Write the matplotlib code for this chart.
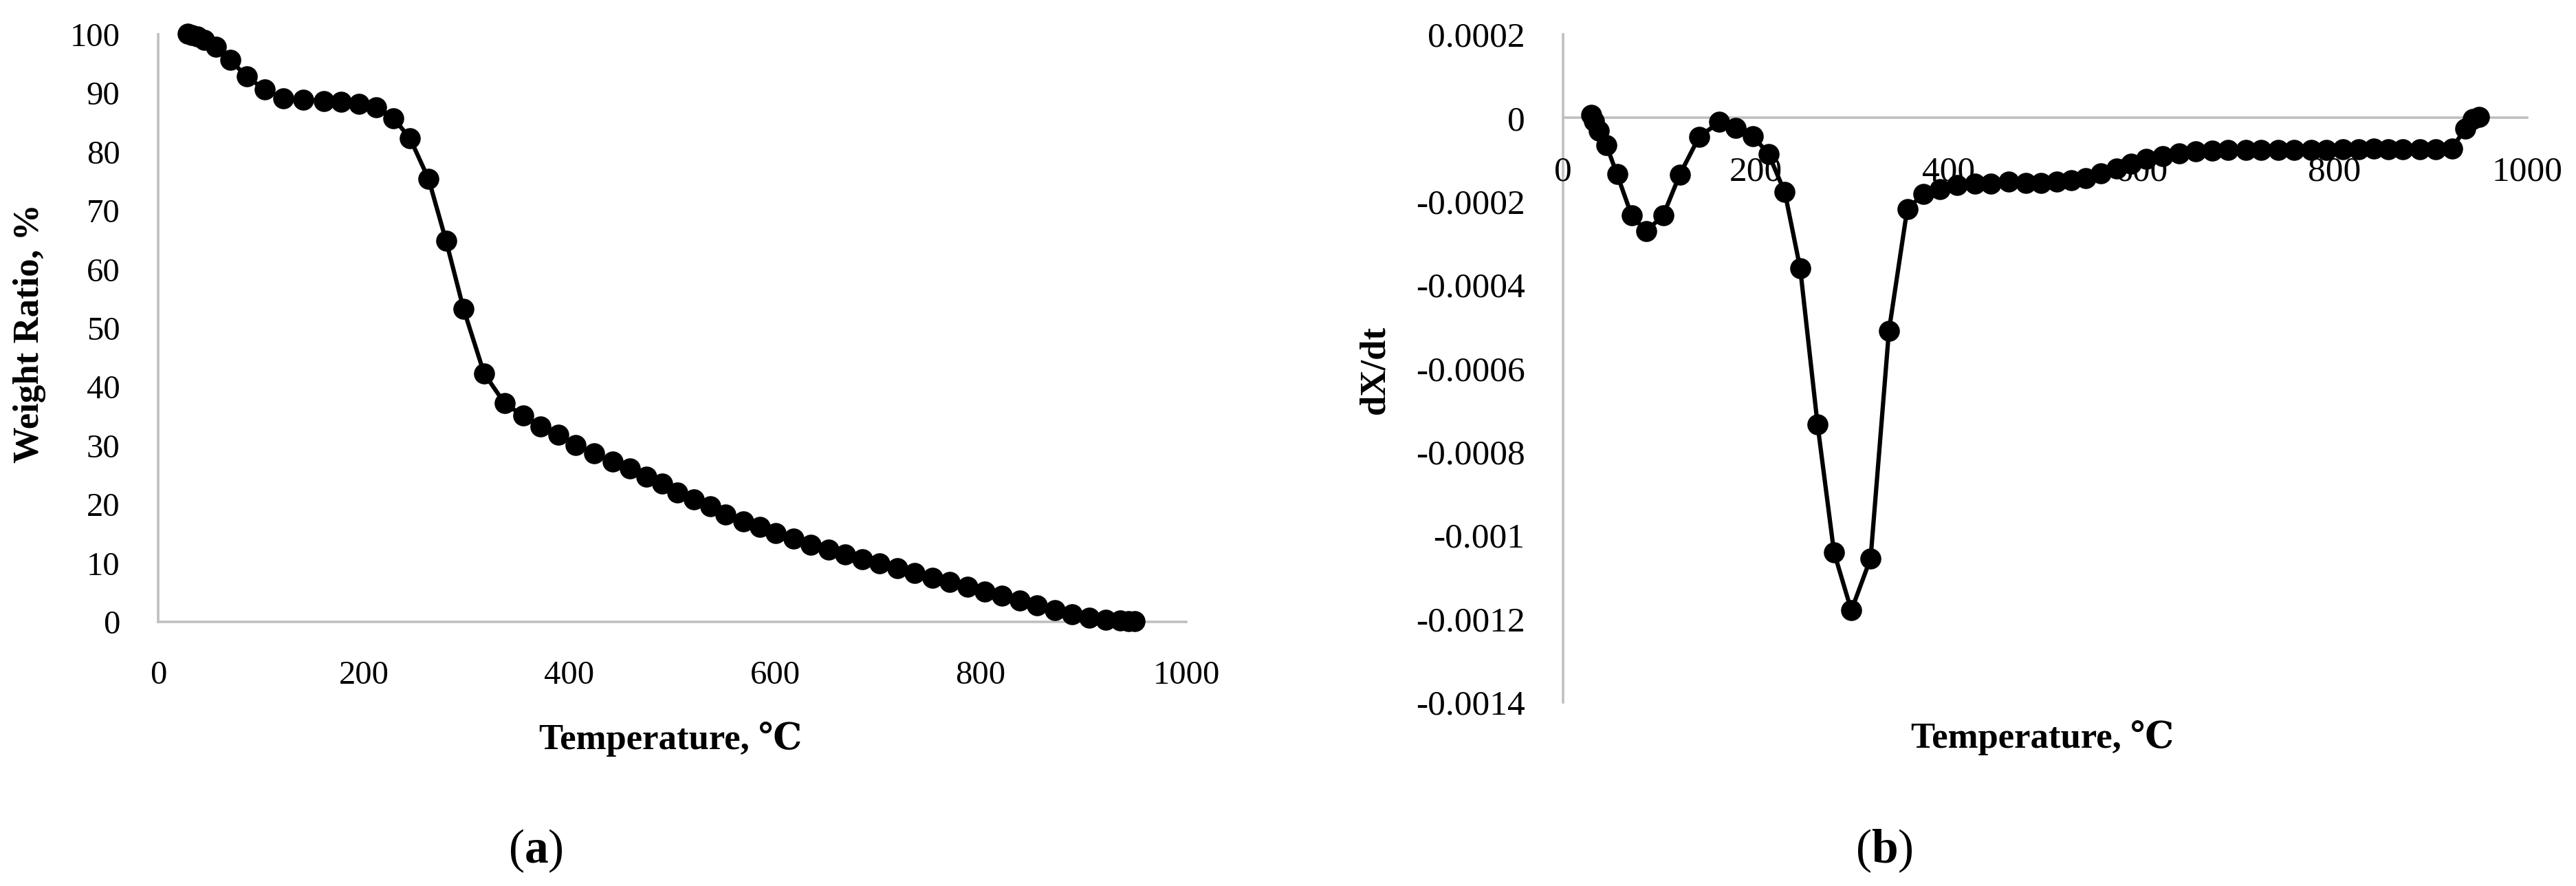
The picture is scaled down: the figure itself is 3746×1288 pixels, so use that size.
import matplotlib
matplotlib.use('Agg')
import matplotlib.pyplot as plt

# ---------------- data ----------------
# (a) weight ratio vs temperature
temp_a = [29, 33, 38, 45, 56, 70, 86, 104, 122, 141, 161, 178, 195, 212, 229, 245, 263,
          280, 297, 317, 337, 355, 372, 389, 406, 424, 442, 459, 475, 490, 505, 521, 537,
          552, 569, 585, 601, 618, 635, 652, 668, 685, 702, 719, 736, 753, 770, 787, 804,
          821, 838, 855, 872, 889, 906, 922, 936, 944, 950]
weight_a = [100.1, 99.9, 99.6, 99.1, 97.9, 95.7, 92.8, 90.6, 89.1, 88.9, 88.7, 88.5, 88.2,
            87.6, 85.7, 82.3, 75.4, 64.9, 53.3, 42.3, 37.2, 35.1, 33.3, 31.8, 30.1, 28.7,
            27.3, 26.1, 24.7, 23.5, 22.0, 20.8, 19.7, 18.3, 17.1, 16.2, 15.1, 14.2, 13.1,
            12.3, 11.5, 10.7, 9.9, 9.1, 8.3, 7.5, 6.8, 6.0, 5.2, 4.4, 3.6, 2.8, 2.0, 1.3,
            0.7, 0.4, 0.2, 0.1, 0.1]

# (b) dX/dt vs temperature
temp_b = [29, 32, 37, 45, 56, 71, 86, 104, 121, 141, 162, 179, 197, 213, 230, 246, 264,
          281, 299, 319, 338, 357, 374, 391, 409, 427, 444, 462, 480, 496, 512, 527, 542,
          558, 574, 589, 605, 622, 639, 656, 673, 690, 708, 724, 742, 758, 776, 792, 809,
          825, 841, 856, 871, 889, 905, 922, 936, 944, 950]
dxdt_b = [0.000008, -0.000008, -0.000031, -0.000066, -0.000135, -0.000233, -0.000272,
          -0.000233, -0.000136, -0.000046, -0.000010, -0.000024, -0.000044, -0.000086,
          -0.000178, -0.000361, -0.000735, -0.001040, -0.001180, -0.001055, -0.000510,
          -0.000218, -0.000182, -0.000171, -0.000161, -0.000157, -0.000157, -0.000153,
          -0.000156, -0.000156, -0.000153, -0.000150, -0.000144, -0.000133, -0.000121,
          -0.000110, -0.000099, -0.000091, -0.000085, -0.000080, -0.000078, -0.000077,
          -0.000077, -0.000077, -0.000077, -0.000077, -0.000077, -0.000077, -0.000076,
          -0.000076, -0.000074, -0.000076, -0.000076, -0.000076, -0.000076, -0.000073,
          -0.000025, -0.000003, 0.000002]

xticks = [0, 200, 400, 600, 800, 1000]
yticks_a = [0, 10, 20, 30, 40, 50, 60, 70, 80, 90, 100]
yticks_b = [0.0002, 0, -0.0002, -0.0004, -0.0006, -0.0008, -0.001, -0.0012, -0.0014]
yticklabels_b = ['0.0002', '0', '-0.0002', '-0.0004', '-0.0006', '-0.0008', '-0.001',
                 '-0.0012', '-0.0014']

# ---------------- style ----------------
W, H = 3746, 1288
serif = ['Liberation Serif', 'DejaVu Serif', 'Noto Sans CJK SC']
plt.rcParams['font.family'] = serif
plt.rcParams['axes.unicode_minus'] = False
plt.rcParams['mathtext.fontset'] = 'custom'
plt.rcParams['mathtext.rm'] = 'Liberation Serif'
plt.rcParams['mathtext.bf'] = 'Liberation Serif:bold'

fig = plt.figure(figsize=(W / 100, H / 100), dpi=100)
axis_col = '#BFBFBF'

def style(ax, size):
    for s in ['top', 'right']:
        ax.spines[s].set_visible(False)
    for s in ['left', 'bottom']:
        ax.spines[s].set_color(axis_col)
        ax.spines[s].set_linewidth(2.6)
        ax.spines[s].set_zorder(1)
    ax.tick_params(length=0, labelsize=size, pad=40)

# (a)
axL = fig.add_axes([230 / W, 384 / H, 1495 / W, 854 / H])
axL.plot(temp_a, weight_a, color='black', lw=4.5, marker='o', ms=21,
         clip_on=False, zorder=3)
axL.set_xlim(0, 1000)
axL.set_ylim(0, 100)
axL.set_xticks(xticks)
axL.set_yticks(yticks_a)
style(axL, 35)

# (b)
axR = fig.add_axes([2273 / W, 267 / H, 1402 / W, 971 / H])
axR.plot(temp_b, dxdt_b, color='black', lw=4.5, marker='o', ms=21,
         clip_on=False, zorder=3)
axR.set_xlim(0, 1000)
axR.set_ylim(-0.0014, 0.0002)
axR.set_xticks(xticks)
axR.set_yticks(yticks_b)
axR.set_yticklabels(yticklabels_b)
axR.spines['bottom'].set_position(('data', 0))
style(axR, 37)

# labels
fig.text(43 / W, 1 - 485 / H, 'Weight Ratio, %', rotation=90, ha='center', va='center',
         fontsize=38, fontweight='bold')
fig.text(1999 / W, 1 - 537 / H, 'dX/dt', rotation=90, ha='center', va='center',
         fontsize=38, fontweight='bold')
fig.text(975 / W, 1 - 1075 / H, 'Temperature, \u2103', ha='center', va='center',
         fontsize=38, fontweight='bold')
fig.text(2970 / W, 1 - 1072 / H, 'Temperature, \u2103', ha='center', va='center',
         fontsize=38, fontweight='bold')
fig.text(779 / W, 1 - 1237 / H, r'($\mathbf{a}$)', ha='center', va='center', fontsize=50)
fig.text(2740 / W, 1 - 1237 / H, r'($\mathbf{b}$)', ha='center', va='center', fontsize=50)

fig.savefig('out.png', dpi=100, facecolor='white')
